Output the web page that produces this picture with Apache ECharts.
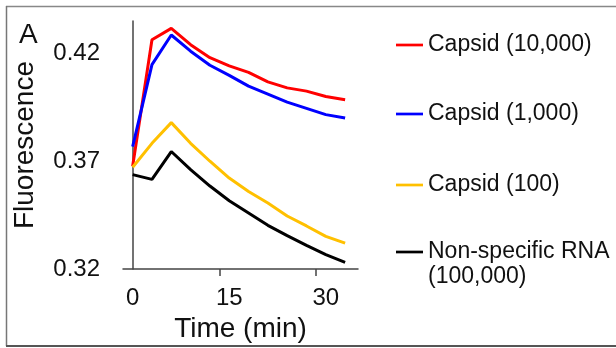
<!DOCTYPE html>
<html>
<head>
<meta charset="utf-8">
<script src="https://cdn.jsdelivr.net/npm/echarts@6/dist/echarts.min.js"></script>
<style>
  html, body { margin: 0; padding: 0; background: #fff; }
  #chart { width: 616px; height: 348px; }
</style>
</head>
<body>
<div id="chart"></div>
<script>
// time points (min)
const times = [0, 3, 6, 9, 12, 15, 18, 21, 24, 27, 30, 33];

const capsid10000 = [0.3677, 0.4263, 0.4316, 0.4240, 0.4180, 0.4142, 0.4112, 0.4068, 0.4040, 0.4025, 0.4000, 0.3985];
const capsid1000 = [0.3768, 0.4148, 0.4285, 0.4210, 0.4145, 0.4098, 0.4048, 0.4011, 0.3974, 0.3945, 0.3916, 0.3900];
const capsid100 = [0.3672, 0.3783, 0.3879, 0.3783, 0.3700, 0.3622, 0.3560, 0.3506, 0.3446, 0.3400, 0.3352, 0.3320];
const nonSpecific = [0.3638, 0.3616, 0.3745, 0.3661, 0.3585, 0.3517, 0.3460, 0.3403, 0.3355, 0.3310, 0.3267, 0.3231];

const seriesNames = ['Capsid (10,000)', 'Capsid (1,000)', 'Capsid (100)', 'Non-specific RNA\n(100,000)'];
const seriesColors = ['#ff0000', '#0000ff', '#ffc000', '#000000'];
const seriesValues = [capsid10000, capsid1000, capsid100, nonSpecific];

const xLabels = [0, 15, 30];
const yLabels = [0.32, 0.37, 0.42];

const font = 'Liberation Sans, Arial, sans-serif';

const chart = echarts.init(document.getElementById('chart'));

// one legend per row, so each row sits where it does in the figure
const legendRows = [45, 114, 185, 252];
const legends = seriesNames.map((name, i) => {
  const twoLine = name.indexOf('\n') >= 0;
  return {
    left: 396,
    top: legendRows[i] - (twoLine ? 37.5 : 12.5),
    padding: 0,
    itemWidth: 27,
    itemHeight: 24,
    icon: 'path://M0,0H30V3H0Z',
    data: [name],
    // blank first line keeps the line icon level with "Non-specific RNA"
    formatter: n => (n.indexOf('\n') >= 0 ? '\n' + n : n),
    textStyle: { fontFamily: font, fontSize: 23, color: '#111', lineHeight: 25 }
  };
});

const option = {
  animation: false,
  backgroundColor: '#fff',
  grid: { left: 123, right: 258, top: 21, bottom: 75.3 },
  legend: legends,
  xAxis: {
    type: 'value',
    min: -1.5,
    max: 35,
    name: 'Time (min)',
    nameLocation: 'middle',
    nameGap: 42,
    nameTextStyle: { fontFamily: font, fontSize: 28, color: '#111' },
    axisLine: { show: true, lineStyle: { color: '#444', width: 1.5 } },
    axisTick: { show: true, length: 7, lineStyle: { color: '#444', width: 1.5 }, customValues: [13.5, 28.5] },
    axisLabel: { fontFamily: font, fontSize: 24, color: '#111', margin: 17, customValues: xLabels },
    splitLine: { show: false }
  },
  yAxis: {
    type: 'value',
    min: 0.32,
    max: 0.435,
    name: 'Fluorescence',
    nameLocation: 'middle',
    nameGap: 84,
    nameTextStyle: { fontFamily: font, fontSize: 28, color: '#111' },
    axisLine: { show: true, lineStyle: { color: '#444', width: 1.5 } },
    axisTick: { show: false },
    axisLabel: {
      fontFamily: font, fontSize: 24, color: '#111', margin: 23,
      customValues: yLabels,
      formatter: v => v.toFixed(2)
    },
    splitLine: { show: false }
  },
  series: seriesNames.map((name, i) => ({
    name: name,
    type: 'line',
    symbol: 'none',
    color: seriesColors[i],
    lineStyle: { width: 3, color: seriesColors[i] },
    data: times.map((t, j) => [t, seriesValues[i][j]])
  })),
  graphic: [
    { type: 'line', shape: { x1: 6, y1: 6.5, x2: 616, y2: 6.5 }, style: { stroke: '#888', lineWidth: 1.5 } },
    { type: 'line', shape: { x1: 6.5, y1: 6, x2: 6.5, y2: 346 }, style: { stroke: '#777', lineWidth: 1.5 } },
    { type: 'line', shape: { x1: 6, y1: 346, x2: 616, y2: 346 }, style: { stroke: '#555', lineWidth: 2 } },
    { type: 'text', left: 19, top: 21, style: { text: 'A', fontFamily: font, fontSize: 28, fill: '#111' } }
  ]
};

chart.setOption(option);
</script>
</body>
</html>
